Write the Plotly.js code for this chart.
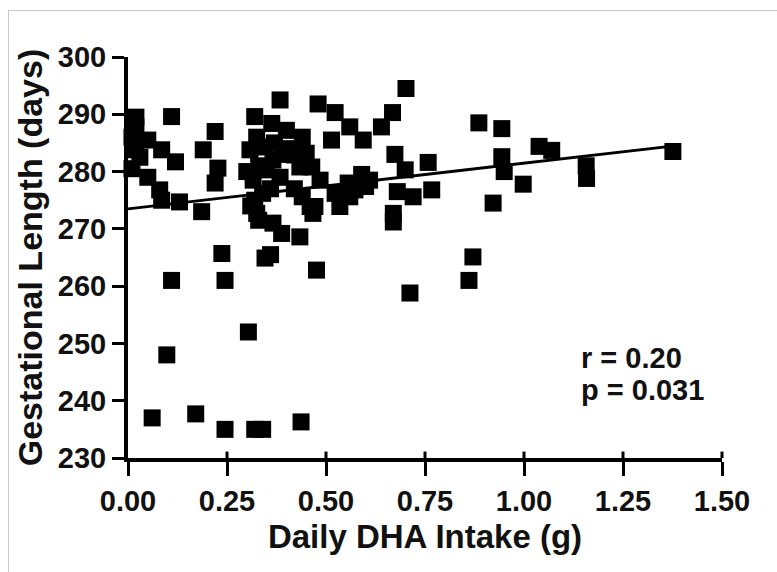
<!DOCTYPE html>
<html>
<head>
<meta charset="utf-8">
<script src="https://cdn.plot.ly/plotly-3.0.1.min.js"></script>
<style>
html,body{margin:0;padding:0;background:#fff;}
#frame{position:absolute;left:8px;top:10px;width:800px;height:600px;border-top:1px solid #c8c8c8;border-left:1px solid #c8c8c8;pointer-events:none;}
#chart{position:absolute;left:0;top:0;width:777px;height:572px;}
</style>
</head>
<body>
<div id="chart"></div>
<div id="frame"></div>
<script>
// Daily DHA intake (g)
var dhaIntake = [
  0.02, 0.02, 0.02, 0.03, 0.05, 0.085, 0.12, 0.05, 0.08, 0.085, 0.13, 0.11, 0.01, 0.01,
  0.22, 0.19, 0.227, 0.22, 0.186, 0.237, 0.245, 0.11, 0.098, 0.061, 0.171, 0.245,
  0.304, 0.32, 0.34, 0.437, 0.384, 0.32, 0.363, 0.40, 0.325, 0.308, 0.346, 0.42,
  0.366, 0.45, 0.35, 0.384, 0.434, 0.464, 0.316, 0.32, 0.31, 0.34, 0.33, 0.325,
  0.366, 0.388, 0.434, 0.346, 0.36, 0.44, 0.46, 0.472, 0.48, 0.485, 0.467, 0.476,
  0.30, 0.33, 0.37, 0.41, 0.44, 0.39, 0.36, 0.42,
  0.523, 0.56, 0.514, 0.594, 0.64, 0.668, 0.702, 0.523, 0.535, 0.556, 0.56, 0.60,
  0.61, 0.573, 0.674, 0.758, 0.70, 0.68, 0.72, 0.767, 0.67, 0.67, 0.712, 0.59,
  0.861, 0.871, 0.886, 0.944, 0.944, 0.95, 0.922, 0.998, 1.038, 1.07, 1.157, 1.158, 1.376
];
// Gestational length (days)
var gestLength = [
  289.5, 287.8, 283.8, 282.5, 285.5, 283.8, 281.7, 279, 276.8, 275, 274.7, 289.6, 286, 280.5,
  287, 283.8, 280.6, 278, 273, 265.7, 261, 261, 248, 237, 237.7, 235,
  252, 235, 235, 236.3, 292.5, 289.6, 288.4, 287.2, 286, 283.8, 284.3, 282.9,
  282, 283.2, 280.3, 279, 280.8, 280.8, 278.5, 275, 274, 276.2, 271.5, 272.7,
  271, 269.2, 268.6, 264.9, 265.5, 275.6, 273.9, 273.9, 291.8, 278.5, 272.7, 262.8,
  280, 281, 285, 284, 286, 283, 277, 277,
  290.3, 287.8, 285.5, 285.5, 287.8, 290.3, 294.5, 276.2, 273.9, 278, 275.6, 277.4,
  278.5, 276.8, 283, 281.6, 280.3, 276.5, 275.6, 276.8, 272.7, 271.2, 258.8, 279.5,
  261, 265.1, 288.5, 287.5, 282.6, 280, 274.5, 277.8, 284.4, 283.7, 281, 278.8, 283.5
];
// Regression line end points
var fitX = [0, 1.38];
var fitY = [273.5, 284.5];
// Axis ticks
var xTicks = [0, 0.25, 0.5, 0.75, 1.0, 1.25, 1.5];
var xTickLabels = ["0.00", "0.25", "0.50", "0.75", "1.00", "1.25", "1.50"];
var yTicks = [230, 240, 250, 260, 270, 280, 290, 300];
var statsText = ["r = 0.20", "p = 0.031"];

var fnt = "Liberation Sans, Arial, sans-serif";
var xRange = [0, 1.5];

var traces = [
  {
    x: fitX, y: fitY, mode: "lines", type: "scatter",
    line: {color: "#000", width: 2.8}, hoverinfo: "skip", cliponaxis: false
  },
  {
    x: dhaIntake, y: gestLength, mode: "markers", type: "scatter",
    marker: {symbol: "square", size: 17, color: "#000", line: {width: 0}},
    cliponaxis: false
  }
];

// small upward parts of the x ticks (GraphPad-style crossing ticks)
var tickShapes = xTicks.slice(1).map(function (t) {
  var px = (t - xRange[0]) / (xRange[1] - xRange[0]);
  return {type: "line", xref: "paper", yref: "paper", x0: px, x1: px, y0: 0, y1: 0.016,
          line: {color: "#000", width: 3}, layer: "above"};
});

var layout = {
  width: 777, height: 572,
  margin: {l: 128, r: 55, t: 57, b: 114},
  paper_bgcolor: "rgba(0,0,0,0)",
  plot_bgcolor: "#fff",
  showlegend: false,
  shapes: tickShapes,
  xaxis: {
    range: xRange, tickvals: xTicks, ticktext: xTickLabels,
    showgrid: false, zeroline: false, showline: true, linecolor: "#000", linewidth: 4,
    ticks: "outside", ticklen: 14, tickwidth: 3, tickcolor: "#000",
    tickfont: {family: fnt, size: 29, color: "#111", weight: "bold"},
    title: {text: "Daily DHA Intake (g)", font: {family: fnt, size: 33, color: "#111", weight: "bold"}, standoff: 10}
  },
  yaxis: {
    range: [230, 300], tickvals: yTicks,
    showgrid: false, zeroline: false, showline: true, linecolor: "#000", linewidth: 4,
    ticks: "outside", ticklen: 12, tickwidth: 3, tickcolor: "#000",
    tickfont: {family: fnt, size: 29, color: "#111", weight: "bold"},
    title: {text: "Gestational Length (days)", font: {family: fnt, size: 34, color: "#111", weight: "bold"}, standoff: 6}
  },
  annotations: [
    {x: 1.14, y: 247.5, xref: "x", yref: "y", text: statsText[0], showarrow: false, xanchor: "left", yanchor: "middle",
     font: {family: fnt, size: 29, color: "#111", weight: "bold"}},
    {x: 1.14, y: 241.9, xref: "x", yref: "y", text: statsText[1], showarrow: false, xanchor: "left", yanchor: "middle",
     font: {family: fnt, size: 29, color: "#111", weight: "bold"}}
  ]
};

Plotly.newPlot("chart", traces, layout, {displayModeBar: false, staticPlot: true});
</script>
</body>
</html>
